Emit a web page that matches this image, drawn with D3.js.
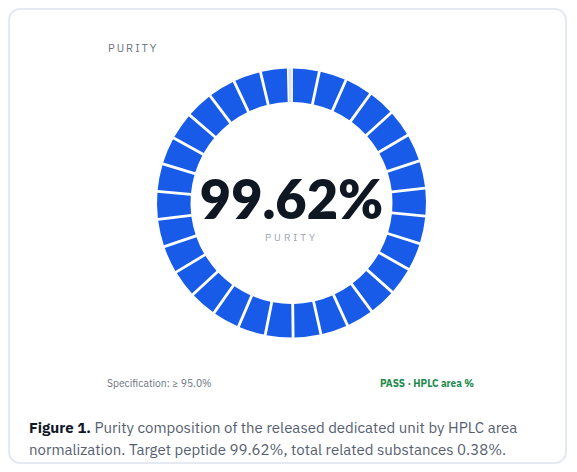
<!DOCTYPE html>
<meta charset="utf-8">
<style>
    body { margin: 0; background: #fff; font-family: "IBM Plex Sans", Inter, "Noto Sans", sans-serif; }
    .card {
        position: absolute; left: 8px; top: 8px; width: 559px; height: 456px;
        border: 2px solid #e4e9f2; border-radius: 12px; box-sizing: border-box;
    }
    .caption {
        position: absolute; left: 29px; top: 417px; width: 520px;
        font-size: 15px; line-height: 22px; color: #566070;
    }
    .caption b { color: #111827; }
</style>
<div class="card"></div>
<svg width="577" height="400" style="position:absolute;left:0;top:0"></svg>
<div class="caption"><b>Figure 1.</b> Purity composition of the released dedicated unit by HPLC area normalization. Target peptide 99.62%, total related substances 0.38%.</div>
<script src="https://d3js.org/d3.v7.min.js"></script>
<script>

    var categories = ["Target peptide", "Total related substances"],
        values = [99.62, 0.38],
        specLabel = "Specification: \u2265 95.0%",
        statusLabel = "PASS \u00b7 HPLC area %",
        segments = 30;

    var svg = d3.select("svg"),
        cx = 291.5, cy = 203,
        outer = 134.5, inner = 101,
        g = svg.append("g").attr("transform", "translate(" + cx + "," + cy + ")");

    var color = d3.scaleOrdinal(categories, ["#185be9", "#dbe3ee"]);

    var pie = d3.pie().sort(null).value(function(d) { return d; });
    var slices = pie(values);

    var arc = d3.arc()
        .innerRadius(inner)
        .outerRadius(outer)
        .padAngle(0.021)
        .padRadius(outer);

    // split the main slice into equal blocks
    var main = slices[0],
        step = (main.endAngle - main.startAngle) / segments,
        blocks = d3.range(segments).map(function(i) {
            return {startAngle: main.startAngle + i * step, endAngle: main.startAngle + (i + 1) * step};
        });

    g.selectAll(".block")
        .data(blocks)
        .enter().append("path")
        .attr("class", "block")
        .attr("d", arc)
        .attr("fill", color(categories[0]));

    g.append("path")
        .datum(slices[1])
        .attr("d", d3.arc().innerRadius(inner).outerRadius(outer))
        .attr("fill", color(categories[1]));

    // center text
    g.append("text")
        .attr("text-anchor", "middle")
        .attr("y", 16)
        .style("font", "800 54px Lato, sans-serif")
        .style("fill", "#0f1723")
        .text(d3.format(".2f")(values[0]) + "%");

    g.append("text")
        .attr("text-anchor", "middle")
        .attr("y", 38)
        .style("font-size", "10px")
        .style("letter-spacing", "3px")
        .style("fill", "#9aa3b2")
        .text("PURITY");

    svg.append("text")
        .attr("x", 108).attr("y", 52)
        .style("font-size", "11px")
        .style("letter-spacing", "2px")
        .style("fill", "#6b7280")
        .text("PURITY");

    svg.append("text")
        .attr("x", 107).attr("y", 387)
        .style("font-size", "10.3px")
        .style("fill", "#6b7280")
        .text(specLabel);

    svg.append("text")
        .attr("x", 474).attr("y", 387)
        .attr("text-anchor", "end")
        .style("font-size", "10px")
        .style("font-weight", "700")
        .style("fill", "#1a8a4a")
        .text(statusLabel);
</script>
